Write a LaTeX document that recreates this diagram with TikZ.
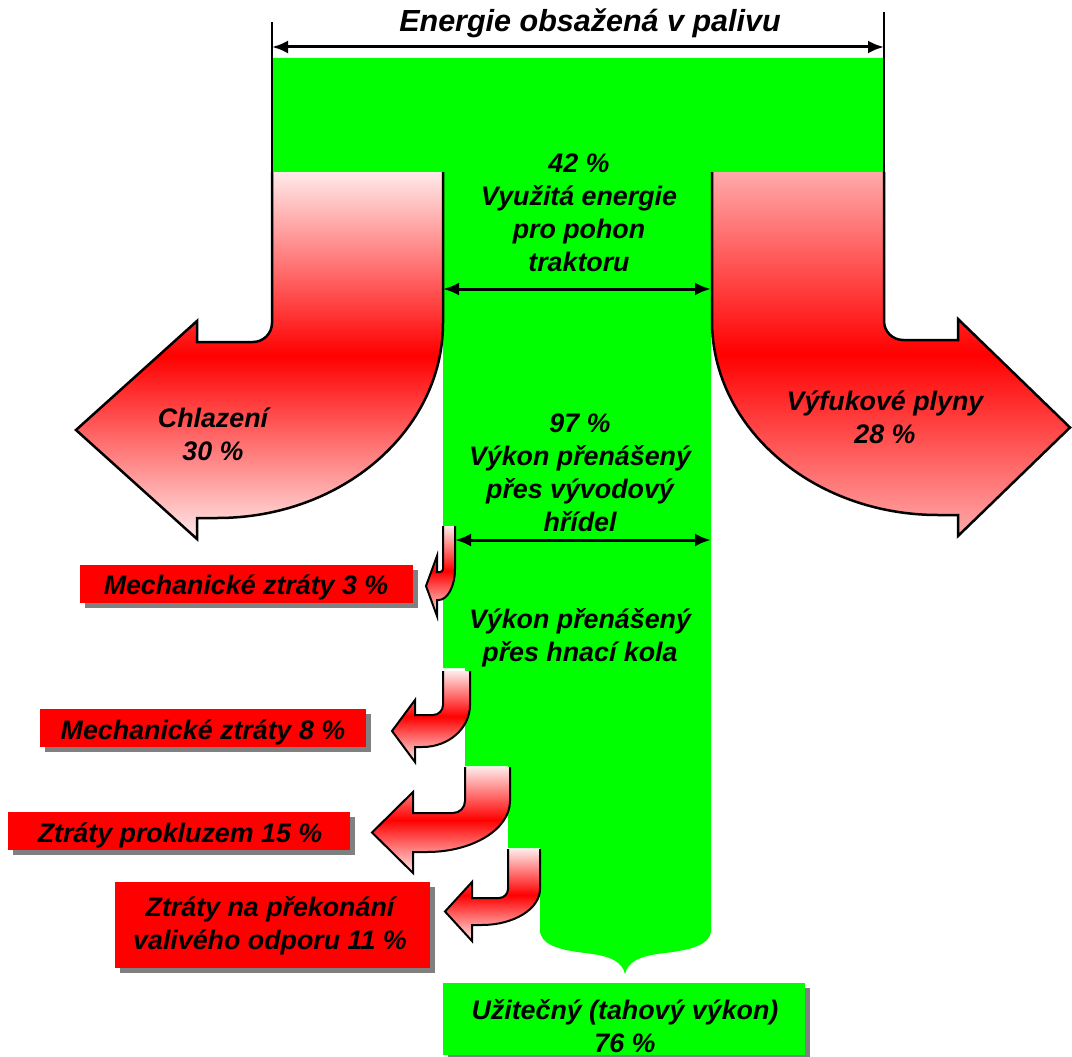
\documentclass[tikz,border=0pt]{standalone}
\usepackage{fontspec}
\setmainfont{Liberation Sans}
\usetikzlibrary{arrows.meta,shadows}
\definecolor{fgreen}{RGB}{0,255,0}
\definecolor{pinkA}{RGB}{255,234,234}
\definecolor{pinkB}{RGB}{255,170,170}
\definecolor{shadowgray}{RGB}{128,128,128}
% #1 xL inner edge, #2 xR outer edge, #3 yT, #4 yN, #5 yB, #6 xN notch, #7 xT tip, #8 barb, #9 corner
\newcommand\uturnarrow[9]{%
 \path[ufill] (#1,#3) -- (#1,{#4-#9})
   .. controls (#1,{#4-0.45*#9}) and ({#1-0.45*#9},#4) .. ({#1-#9},#4)
   -- (#6,#4) -- (#6,{#4-#8}) -- (#7,{(#4+#5)/2}) -- (#6,{#5+#8}) -- (#6,#5)
   -- ({#6+0.27*(#1-#6)},#5)
   .. controls ({#6+0.27*(#1-#6)+0.552*(#2-#6-0.27*(#1-#6))},#5) and (#2,{#4-#9+0.552*(#5-#4+#9)}) .. (#2,{#4-#9})
   -- (#2,#3) -- cycle;
 \path[draw=black,uline,line join=miter] (#1,#3) -- (#1,{#4-#9})
   .. controls (#1,{#4-0.45*#9}) and ({#1-0.45*#9},#4) .. ({#1-#9},#4)
   -- (#6,#4) -- (#6,{#4-#8}) -- (#7,{(#4+#5)/2}) -- (#6,{#5+#8}) -- (#6,#5)
   -- ({#6+0.27*(#1-#6)},#5)
   .. controls ({#6+0.27*(#1-#6)+0.552*(#2-#6-0.27*(#1-#6))},#5) and (#2,{#4-#9+0.552*(#5-#4+#9)}) .. (#2,{#4-#9})
   -- (#2,#3);}
\tikzset{
 lbl/.style={font=\fontsize{26.8}{33}\selectfont\bfseries\itshape, align=center, inner sep=0pt},
 ttl/.style={font=\fontsize{30.5}{36}\selectfont\bfseries\itshape, inner sep=0pt},
 lossbox/.style={fill=red, inner sep=0pt, drop shadow={shadow xshift=5pt,shadow yshift=-5pt,fill=shadowgray,opacity=1}},
 gainbox/.style={fill=fgreen, inner sep=0pt, drop shadow={shadow xshift=5pt,shadow yshift=-5pt,fill=shadowgray,opacity=1}},
 dimarrow/.style={line width=3pt, {Latex[length=16pt,width=13pt]}-{Latex[length=16pt,width=13pt]}},
 tickline/.style={line width=2.5pt},
 ufill/.style={top color=pinkA,bottom color=pinkA,middle color=red},
 uline/.style={line width=2pt},
}
\begin{document}
\begin{tikzpicture}[x=1pt,y=-1pt]
\useasboundingbox (0,0) rectangle (1072,1057);
% green flow
\fill[fgreen] (272,58) -- (884,58) -- (884,172) -- (711,172) -- (711,930)
  .. controls (711,945) and (690,950) .. (665,953)
  .. controls (638,956) and (628,962) .. (625,974)
  .. controls (622,962) and (612,956) .. (585,953)
  .. controls (560,950) and (540,945) .. (540,930)
  -- (540,848) -- (508,848) -- (508,766) -- (465,766) -- (465,668) -- (443,668) -- (443,172) -- (272,172) -- cycle;
% big arrows
\begin{scope}[uline/.style={line width=2.5pt}]
\uturnarrow{272}{443}{172}{342}{518}{197}{76}{21}{19}
\end{scope}
\begin{scope}[xshift=1156pt,xscale=-1,ufill/.style={top color=pinkB,bottom color=pinkB,middle color=red},uline/.style={line width=2.5pt}]
\uturnarrow{272}{444}{172}{340}{515}{198}{86}{21}{19}
\end{scope}
% small arrows
\uturnarrow{443}{455}{526}{572}{600}{437}{426}{16}{3}
\uturnarrow{443}{470}{671}{715}{747}{415}{392}{15}{10}
\uturnarrow{465}{510}{767}{813}{852}{413}{372}{21}{12}
\uturnarrow{508}{540}{849}{898}{925}{472}{445}{16}{9}
% dimension lines
\coordinate (tickLtop) at (272,22);
\coordinate (tickLbot) at (272,172);
\coordinate (tickRtop) at (884,12);
\coordinate (tickRbot) at (884,172);
\coordinate (dimTL) at (272,47);
\coordinate (dimTR) at (884,47);
\coordinate (dimAL) at (443,289);
\coordinate (dimAR) at (711,289);
\coordinate (dimBL) at (455,540);
\coordinate (dimBR) at (711,540);
\draw[tickline] (tickLtop) -- (tickLbot);
\draw[tickline] (tickRtop) -- (tickRbot);
\draw[dimarrow] (dimTL) -- (dimTR);
\draw[dimarrow] (dimAL) -- (dimAR);
\draw[dimarrow] (dimBL) -- (dimBR);
% labels
\node[ttl] (title) at (590,23) {Energie obsažená v palivu};
\node[lbl] (used) at (579,213) {42 \%\\Využitá energie\\pro pohon\\traktoru};
\node[lbl] (pto) at (580,473) {97 \%\\Výkon přenášený\\přes vývodový\\hřídel};
\node[lbl] (wheels) at (580,638) {Výkon přenášený\\přes hnací kola};
\node[lbl] (cool) at (213,434) {Chlazení\\30 \%};
\node[lbl] (exh) at (885,417) {Výfukové plyny\\28 \%};
% loss boxes
\node[lossbox, minimum width=333pt, minimum height=38pt] (b3) at (246.5,583.5) {};
\node[lbl] (t3) at (246,587) {Mechanické ztráty 3 \%};
\node[lossbox, minimum width=326pt, minimum height=38pt] (b8) at (203,728) {};
\node[lbl] (t8) at (203,732) {Mechanické ztráty 8 \%};
\node[lossbox, minimum width=342pt, minimum height=38pt] (b15) at (179,831) {};
\node[lbl] (t15) at (180,835) {Ztráty prokluzem 15 \%};
\node[lossbox, minimum width=315pt, minimum height=86pt] (b11) at (272.5,925) {};
\node[lbl] (t11) at (270,926) {Ztráty na překonání\\valivého odporu 11 \%};
\node[gainbox, minimum width=362pt, minimum height=72pt] (bu) at (624,1019) {};
\node[lbl] (tu) at (625,1026) {Užitečný (tahový výkon)\\76 \%};
\end{tikzpicture}
\end{document}
